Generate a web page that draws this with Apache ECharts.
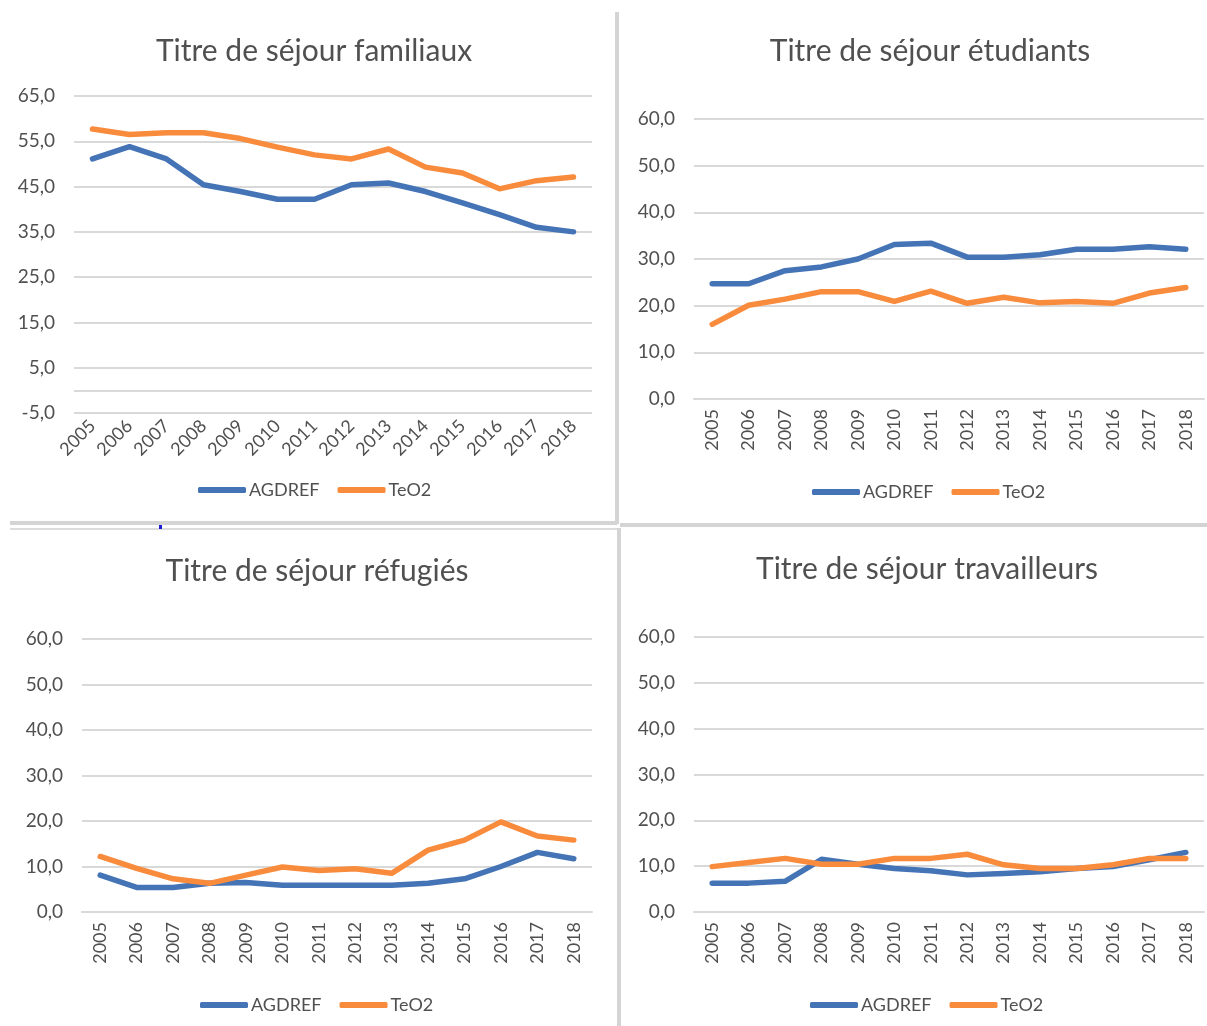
<!DOCTYPE html>
<html>
<head>
<meta charset="utf-8">
<script src="https://cdn.jsdelivr.net/npm/echarts@6/dist/echarts.min.js"></script>
<style>
  html, body { margin: 0; padding: 0; background: #fff; }
  #main { width: 1207px; height: 1026px; }
</style>
</head>
<body>
<div id="main"></div>
<script>
var years = ["2005", "2006", "2007", "2008", "2009", "2010", "2011", "2012", "2013", "2014", "2015", "2016", "2017", "2018"];
var titles = ["Titre de séjour familiaux", "Titre de séjour étudiants", "Titre de séjour réfugiés", "Titre de séjour travailleurs"];
var seriesNames = ["AGDREF", "TeO2"];

// valeurs
var familiauxAgdref = [51.1, 53.8, 51.1, 45.4, 43.9, 42.2, 42.2, 45.4, 45.8, 43.9, 41.4, 38.8, 36.0, 35.0];
var familiauxTeo2 = [57.7, 56.5, 56.9, 56.9, 55.6, 53.7, 52.0, 51.1, 53.3, 49.3, 48.0, 44.5, 46.3, 47.1];
var etudiantsAgdref = [24.7, 24.7, 27.5, 28.3, 30.0, 33.1, 33.4, 30.4, 30.4, 30.9, 32.1, 32.1, 32.6, 32.1];
var etudiantsTeo2 = [16.0, 20.1, 21.4, 23.0, 23.0, 20.9, 23.1, 20.5, 21.8, 20.6, 20.9, 20.5, 22.7, 23.9];
var refugiesAgdref = [8.1, 5.4, 5.4, 6.3, 6.5, 5.9, 5.9, 5.9, 5.9, 6.3, 7.3, 10.0, 13.1, 11.7];
var refugiesTeo2 = [12.2, 9.6, 7.3, 6.3, 8.1, 9.9, 9.1, 9.5, 8.5, 13.6, 15.8, 19.8, 16.7, 15.8];
var travailleursAgdref = [6.3, 6.3, 6.7, 11.5, 10.4, 9.5, 9.0, 8.1, 8.4, 8.8, 9.5, 9.9, 11.4, 13.0];
var travailleursTeo2 = [9.9, 10.8, 11.7, 10.4, 10.4, 11.7, 11.7, 12.6, 10.3, 9.5, 9.5, 10.3, 11.7, 11.7];

var panelData = [
  [familiauxAgdref, familiauxTeo2],
  [etudiantsAgdref, etudiantsTeo2],
  [refugiesAgdref, refugiesTeo2],
  [travailleursAgdref, travailleursTeo2]
];

var colors = ["#4473B6", "#F98B3D"];
var textColor = "#505050";
var gridColor = "#d9d9d9";
var font = "Lato";

// position de chaque panneau
var panels = [
  { left: 74, width: 518, top: 96, height: 317, titleX: 309, titleY: 46, legendX: 193, legendY: 488, min: -5, max: 65, rotate: 45 },
  { left: 694, width: 510, top: 119, height: 280, titleX: 925, titleY: 46, legendX: 807, legendY: 490, min: 0, max: 60, rotate: 90 },
  { left: 82, width: 510, top: 639, height: 273, titleX: 312, titleY: 566, legendX: 195, legendY: 1003, min: 0, max: 60, rotate: 90 },
  { left: 694, width: 510, top: 637, height: 275, titleX: 922, titleY: 564, legendX: 805, legendY: 1003, min: 0, max: 60, rotate: 90 }
];

var option = {
  backgroundColor: "#fff",
  animation: false,
  color: colors,
  title: [], grid: [], xAxis: [], yAxis: [], legend: [], series: [],
  graphic: [
    { type: "rect", shape: { x: 615, y: 12, width: 4, height: 512 }, style: { fill: "#d4d4d4" } },
    { type: "rect", shape: { x: 617, y: 528, width: 4, height: 498 }, style: { fill: "#d4d4d4" } },
    { type: "rect", shape: { x: 10, y: 521, width: 607, height: 4 }, style: { fill: "#d4d4d4" } },
    { type: "rect", shape: { x: 10, y: 528, width: 607, height: 2 }, style: { fill: "#dcdcdc" } },
    { type: "rect", shape: { x: 620, y: 523, width: 587, height: 4 }, style: { fill: "#d4d4d4" } },
    { type: "rect", shape: { x: 159, y: 525, width: 3, height: 4 }, style: { fill: "#1a1ad0" } }
  ]
};

panels.forEach(function (p, i) {
  option.title.push({
    text: titles[i],
    left: p.titleX,
    top: p.titleY,
    textAlign: "center",
    textVerticalAlign: "middle",
    textStyle: { fontFamily: font, fontSize: 30, fontWeight: "normal", color: textColor }
  });
  option.grid.push({ left: p.left, top: p.top, width: p.width, height: p.height, containLabel: false });
  option.xAxis.push({
    type: "category",
    gridIndex: i,
    data: years,
    boundaryGap: true,
    axisLine: { show: i !== 0, lineStyle: { color: gridColor, width: 2 } },
    axisTick: { show: false },
    axisLabel: { rotate: p.rotate, color: textColor, fontFamily: font, fontSize: 18, margin: 10, interval: 0 }
  });
  option.yAxis.push({
    type: "value",
    gridIndex: i,
    min: p.min,
    max: p.max,
    interval: 10,
    axisLine: { show: false },
    axisTick: { show: false },
    splitLine: { lineStyle: { color: gridColor, width: 2 } },
    axisLabel: {
      color: textColor, fontFamily: font, fontSize: 19, margin: 19,
      formatter: function (v) { return v.toFixed(1).replace(".", ","); }
    }
  });
  option.legend.push({
    left: p.legendX,
    top: p.legendY - 12,
    icon: "roundRect",
    itemWidth: 48,
    itemHeight: 6,
    itemGap: 18,
    textStyle: { color: textColor, fontFamily: font, fontSize: 18, padding: [0, 0, 0, -2] },
    data: seriesNames
  });
  seriesNames.forEach(function (name, k) {
    var s = {
      name: name,
      type: "line",
      xAxisIndex: i,
      yAxisIndex: i,
      data: panelData[i][k],
      showSymbol: false,
      symbol: "none",
      lineStyle: { width: 5.5, color: colors[k], cap: "round", join: "round" },
      itemStyle: { color: colors[k] },
      z: 3 + k
    };
    if (i === 0 && k === 0) {
      // axe horizontal d'Excel, placé sur la valeur 0
      s.markLine = {
        silent: true,
        symbol: "none",
        label: { show: false },
        lineStyle: { color: gridColor, width: 2, type: "solid" },
        data: [{ yAxis: 0 }],
        z: 1
      };
    }
    option.series.push(s);
  });
});

var myChart = echarts.init(document.getElementById("main"));
myChart.setOption(option);
</script>
</body>
</html>
